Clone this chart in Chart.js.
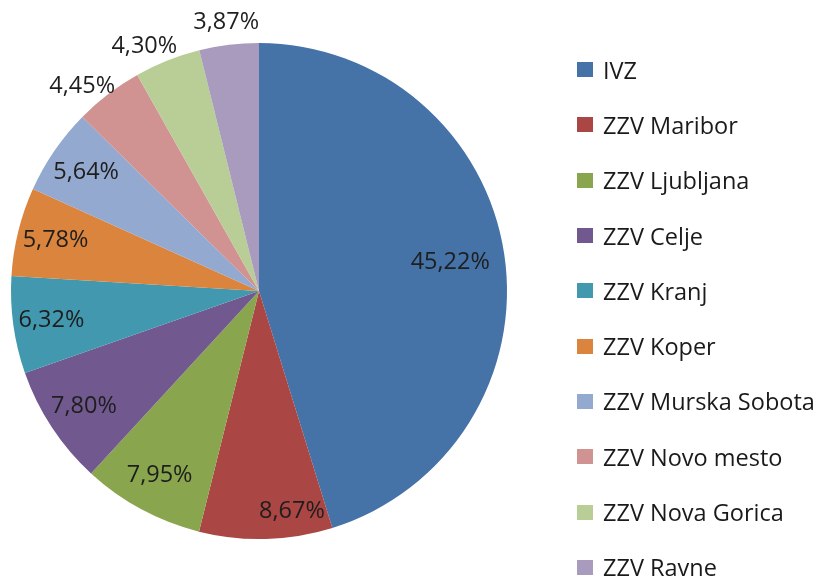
<!DOCTYPE html>
<html>
<head>
<meta charset="utf-8">
<script src="https://cdn.jsdelivr.net/npm/chart.js@4"></script>
<style>
  html, body { margin: 0; padding: 0; background: #fff; }
  #wrap { position: relative; width: 817px; height: 576px; overflow: hidden; }
  #c { position: absolute; left: 0; top: 0; }
  #legend { position: absolute; left: 577px; top: 42px; font-family: "Open Sans", sans-serif; font-size: 23.5px; color: #1a1a1a; white-space: nowrap; }
  .item { height: 55.3px; display: flex; align-items: center; }
  .box { width: 16px; height: 15px; margin-right: 10px; flex: none; }
</style>
</head>
<body>
<div id="wrap">
  <canvas id="c" width="817" height="576"></canvas>
  <div id="legend"></div>
</div>
<script>
const categories = ["IVZ", "ZZV Maribor", "ZZV Ljubljana", "ZZV Celje", "ZZV Kranj", "ZZV Koper", "ZZV Murska Sobota", "ZZV Novo mesto", "ZZV Nova Gorica", "ZZV Ravne"];
const shares = [45.22, 8.67, 7.95, 7.80, 6.32, 5.78, 5.64, 4.45, 4.30, 3.87];
const percentLabels = ["45,22%", "8,67%", "7,95%", "7,80%", "6,32%", "5,78%", "5,64%", "4,45%", "4,30%", "3,87%"];
const colors = ["#4572A7", "#AA4643", "#89A54E", "#71588F", "#4198AF", "#DB843D", "#93A9CF", "#D19392", "#B9CD96", "#A99BBD"];

const labelPlugin = {
  id: 'sliceLabels',
  afterDatasetsDraw(chart) {
    const ctx = chart.ctx;
    const meta = chart.getDatasetMeta(0);
    ctx.save();
    ctx.font = '23.5px "Open Sans", sans-serif';
    ctx.fillStyle = '#1e1e1e';
    ctx.textAlign = 'center';
    ctx.textBaseline = 'middle';
    meta.data.forEach((arc, i) => {
      const p = arc.getProps(['x', 'y', 'startAngle', 'endAngle', 'outerRadius'], true);
      let mid = (p.startAngle + p.endAngle) / 2;
      let frac;
      if (shares[i] < 5) {
        frac = 1.09;
        if (i < categories.length - 1) mid -= 0.06;
      } else {
        frac = i === 0 ? 0.78 : 0.845;
        if (i === 1) { mid -= 0.12; frac = 0.9; }
      }
      const r = p.outerRadius * frac;
      ctx.fillText(percentLabels[i], p.x + Math.cos(mid) * r, p.y + Math.sin(mid) * r);
    });
    ctx.restore();
  }
};

new Chart(document.getElementById('c'), {
  type: 'pie',
  data: {
    labels: categories,
    datasets: [{ data: shares, backgroundColor: colors, borderWidth: 0 }]
  },
  options: {
    responsive: false,
    animation: false,
    layout: { padding: { left: 11, top: 43, bottom: 37, right: 310 } },
    plugins: { legend: { display: false }, tooltip: { enabled: false } }
  },
  plugins: [labelPlugin]
});

const legend = document.getElementById('legend');
categories.forEach((name, i) => {
  const it = document.createElement('div');
  it.className = 'item';
  const b = document.createElement('span');
  b.className = 'box';
  b.style.background = colors[i];
  const t = document.createElement('span');
  t.textContent = name;
  it.appendChild(b);
  it.appendChild(t);
  legend.appendChild(it);
});
</script>
</body>
</html>
